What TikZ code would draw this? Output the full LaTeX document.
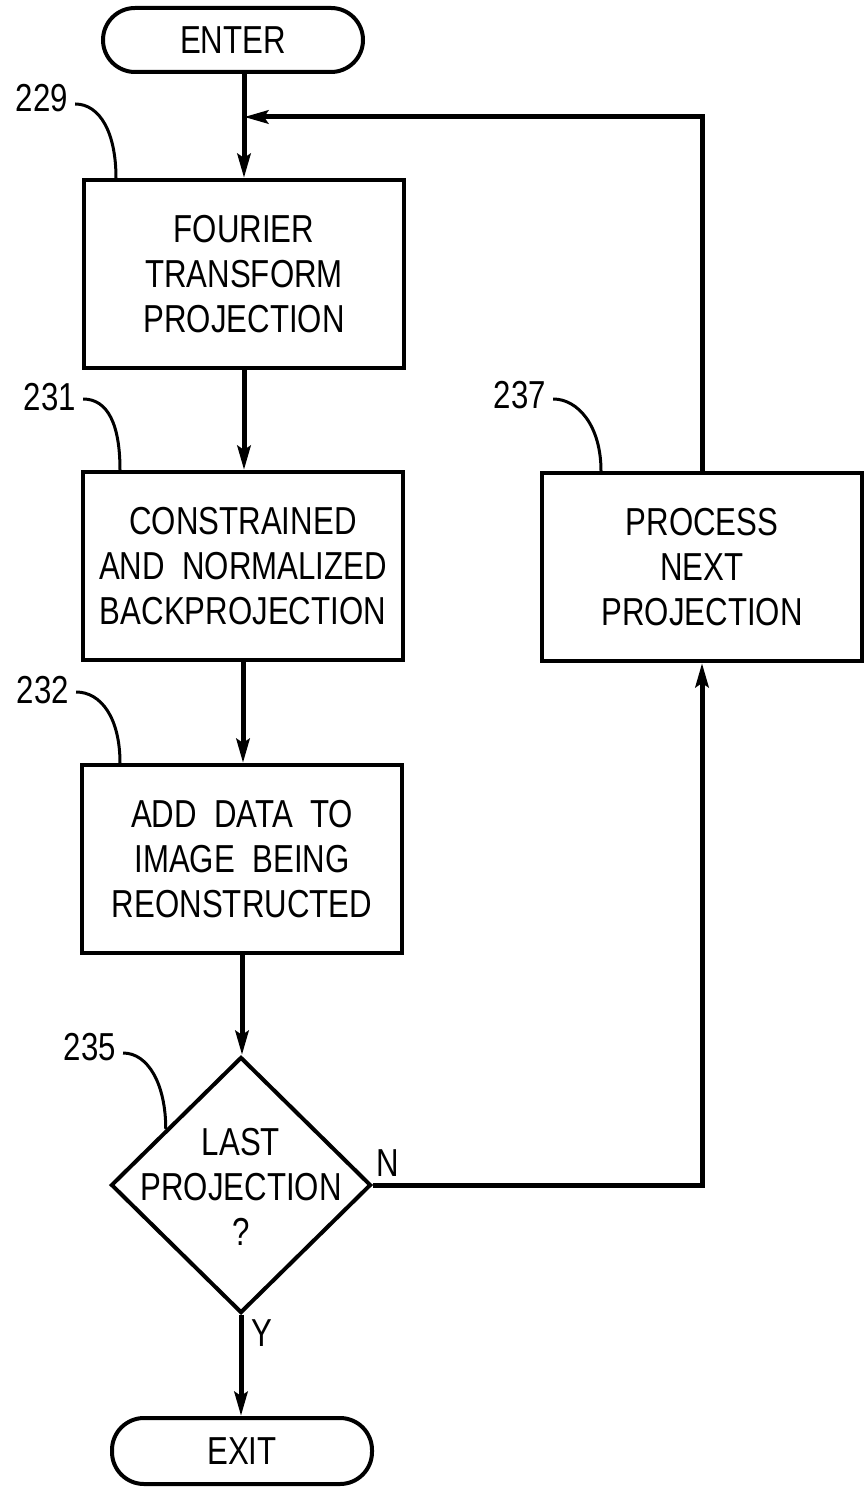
\documentclass[tikz,border=0pt]{standalone}
\usepackage{fontspec}
\setmainfont{Liberation Sans}[FakeStretch=0.8]
\usetikzlibrary{arrows.meta,shapes.geometric,calc}
\begin{document}
\begin{tikzpicture}[x=0.5pt,y=-0.5pt,
	every node/.style={font=\fontsize{19.5}{22.5}\selectfont},
	box/.style={draw,line width=2pt,minimum width=160pt,minimum height=94pt,align=center},
	term/.style={draw,line width=2pt,rounded corners=16pt,minimum width=130pt,minimum height=32pt},
	dec/.style={draw,diamond,line width=2pt,minimum width=130pt,minimum height=128pt,inner sep=0pt},
	flow/.style={line width=2.5pt,-{Stealth[length=12pt,width=6.5pt,inset=2pt]}},
	lead/.style={line width=1.5pt}]
\useasboundingbox (0,0) rectangle (867,1491);

\node[term] (enter) at (233,40) {ENTER};
\node[box] (fourier) at (244,274) {FOURIER\\TRANSFORM\\PROJECTION};
\node[box] (backproj) at (243,566) {CONSTRAINED\\AND\ \ NORMALIZED\\BACKPROJECTION};
\node[box] (adddata) at (242,859) {ADD\ \ DATA\ \ TO\\IMAGE\ \ BEING\\REONSTRUCTED};
\node[dec] (last) at (241,1185) {};
\node[align=center] (lasttext) at (241,1187) {LAST\\PROJECTION\\?};
\node[term,minimum height=33pt] (exit) at (242,1451) {EXIT};
\node[box] (next) at (702,567) {PROCESS\\NEXT\\PROJECTION};

\node (n229) at (42,98) {229};
\node (n231) at (50,397) {231};
\node (n232) at (43,690) {232};
\node (n235) at (90,1047) {235};
\node (n237) at (520,395) {237};
\node (no) at (388,1163) {N};
\node (yes) at (262,1333) {Y};

\coordinate (join) at (244,117);

\draw[flow] (fourier.north |- enter.south) -- (fourier.north);
\draw[flow] (fourier.south) -- (fourier.south |- backproj.north);
\draw[flow] (backproj.south) -- (backproj.south |- adddata.north);
\draw[flow] (adddata.south) -- (adddata.south |- last.north);
\draw[flow] (last.south) -- (last.south |- exit.north);
\draw[flow] (last.east) -| (next.south);
\draw[flow] (next.north) |- (join);

\draw[lead] ([yshift=-3pt]n229.east) .. controls +(25,0) and +(0,-45) .. ([xshift=17pt]fourier.north west);
\draw[lead] ([yshift=-1pt]n231.east) .. controls +(25,0) and +(0,-45) .. ([xshift=19.5pt]backproj.north west);
\draw[lead] ([yshift=-1pt]n232.east) .. controls +(25,0) and +(0,-45) .. ([xshift=20pt]adddata.north west);
\draw[lead] ([yshift=-3pt]n235.east) .. controls +(25,0) and +(0,-45) .. ($(last.west)!0.43!(last.north)$);
\draw[lead] ([yshift=-2pt]n237.east) .. controls +(25,0) and +(0,-45) .. ([xshift=30.5pt]next.north west);
\end{tikzpicture}
\end{document}
